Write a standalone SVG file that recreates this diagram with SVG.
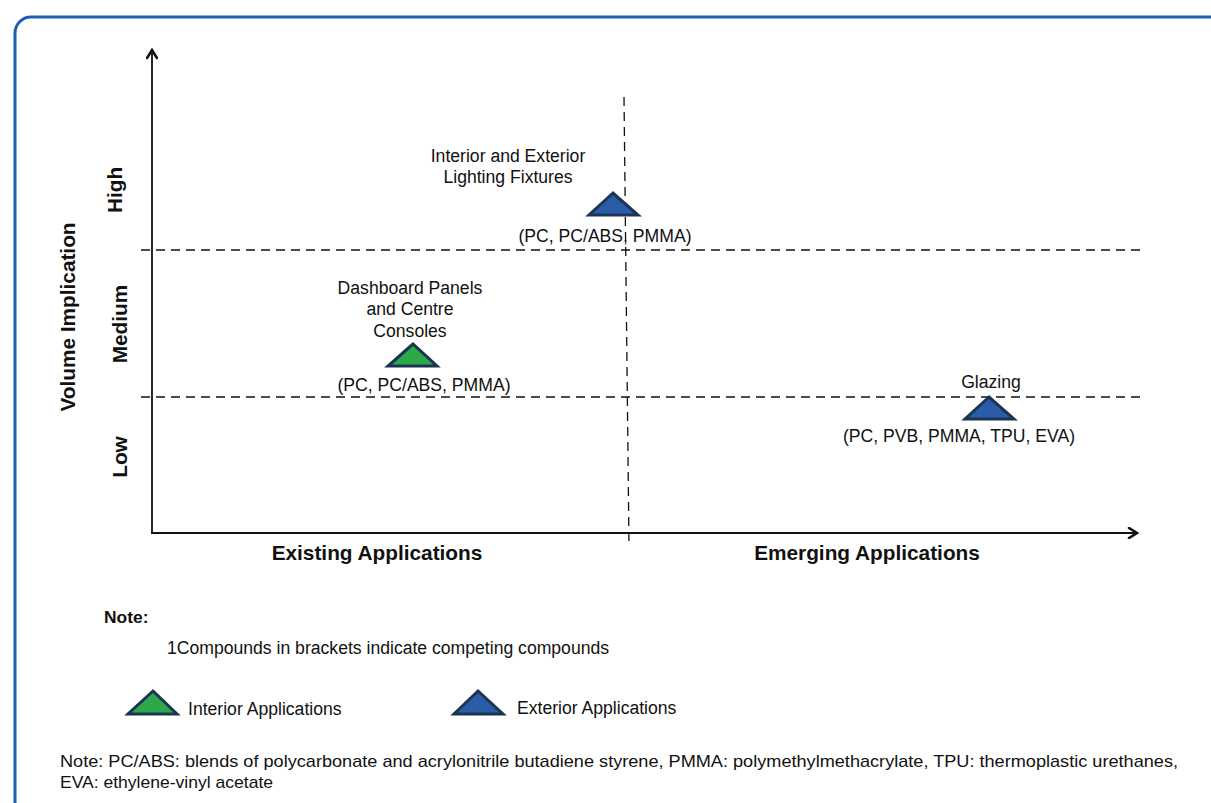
<svg xmlns="http://www.w3.org/2000/svg" width="1211" height="803" viewBox="0 0 1211 803">
<defs>
<style>
text{font-family:"Liberation Sans",Arial,sans-serif;fill:#111}
.lbl{font-size:17.6px}
.ax{font-size:20.8px;font-weight:bold}
.note{font-size:17px}
.dash{stroke:#111;stroke-width:1.3;stroke-dasharray:9,6;fill:none}
.axis{stroke:#111;stroke-width:1.8;fill:none}
.tri{stroke:#1c3454;stroke-width:3;stroke-linejoin:miter}
.int{fill:#2fa84a}
.ext{fill:#2a5ca8}
</style>
<marker id="arr" viewBox="0 0 12 12" refX="10" refY="6" markerWidth="12" markerHeight="12" markerUnits="userSpaceOnUse" orient="auto">
<path d="M2,1 L10,6 L2,11" fill="none" stroke="#111" stroke-width="2.6" stroke-linecap="round" stroke-linejoin="miter"/>
</marker>
</defs>
<rect width="1211" height="803" fill="#fff"/>
<rect x="15" y="17" width="1230" height="820" rx="16" ry="16" fill="none" stroke="#1a5db2" stroke-width="3"/>
<g id="connectors">
<line class="axis" x1="152" y1="534" x2="152" y2="50" marker-end="url(#arr)"/>
<line class="axis" x1="151" y1="533" x2="1137" y2="533" marker-end="url(#arr)"/>
<line class="dash" x1="141" y1="250" x2="1140" y2="250"/>
<line class="dash" x1="141" y1="397" x2="1140" y2="397"/>
<line class="dash" x1="624" y1="97" x2="629" y2="546"/>
</g>
<g id="axis-labels">
<text class="ax" transform="translate(75,317) rotate(-90)" text-anchor="middle">Volume Implication</text>
<text class="ax" transform="translate(122,190) rotate(-90)" text-anchor="middle">High</text>
<text class="ax" transform="translate(127,324) rotate(-90)" text-anchor="middle">Medium</text>
<text class="ax" transform="translate(127,457) rotate(-90)" text-anchor="middle">Low</text>
<text class="ax" x="377" y="560" text-anchor="middle">Existing Applications</text>
<text class="ax" x="867" y="560" text-anchor="middle">Emerging Applications</text>
</g>
<g id="lighting">
<polygon class="tri ext" points="613,193 589,215 638,215"/>
<text class="lbl" x="508" y="162" text-anchor="middle">Interior and Exterior</text>
<text class="lbl" x="508" y="183" text-anchor="middle">Lighting Fixtures</text>
<text class="lbl" x="605" y="242" text-anchor="middle">(PC, PC/ABS, PMMA)</text>
</g>
<g id="dashboard">
<polygon class="tri int" points="413,344 388,366 437,366"/>
<text class="lbl" x="410" y="294" text-anchor="middle">Dashboard Panels</text>
<text class="lbl" x="410" y="315" text-anchor="middle">and Centre</text>
<text class="lbl" x="410" y="337" text-anchor="middle">Consoles</text>
<text class="lbl" x="424" y="391" text-anchor="middle">(PC, PC/ABS, PMMA)</text>
</g>
<g id="glazing">
<polygon class="tri ext" points="989,397 965,419 1014,419"/>
<text class="lbl" x="991" y="388" text-anchor="middle">Glazing</text>
<text class="lbl" x="959" y="442" text-anchor="middle">(PC, PVB, PMMA, TPU, EVA)</text>
</g>
<g id="notes">
<text x="104" y="623" style="font-size:17.4px;font-weight:bold">Note:</text>
<text class="lbl" x="167" y="654">1Compounds in brackets indicate competing compounds</text>
</g>
<g id="legend-interior">
<polygon class="tri int" points="153,691 128,714 177,714"/>
<text class="lbl" x="188" y="715">Interior Applications</text>
</g>
<g id="legend-exterior">
<polygon class="tri ext" points="478,691 454,714 503,714"/>
<text class="lbl" x="517" y="714">Exterior Applications</text>
</g>
<g id="footnote">
<text class="note" x="60" y="767" textLength="1118" lengthAdjust="spacingAndGlyphs">Note: PC/ABS: blends of polycarbonate and acrylonitrile butadiene styrene, PMMA: polymethylmethacrylate, TPU: thermoplastic urethanes,</text>
<text class="note" x="60" y="788" textLength="213" lengthAdjust="spacingAndGlyphs">EVA: ethylene-vinyl acetate</text>
</g>
</svg>
